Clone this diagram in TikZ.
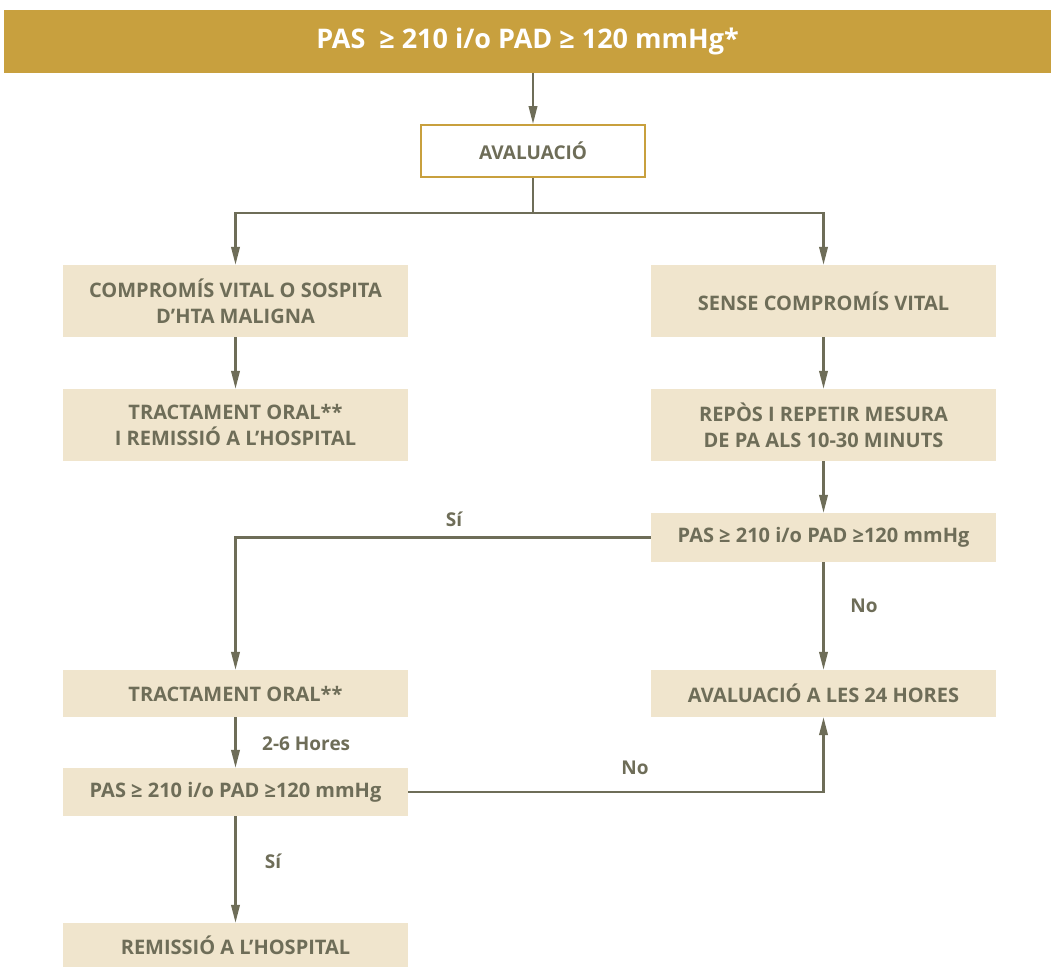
\documentclass[tikz,border=0pt]{standalone}
\usepackage{fontspec}
\setmainfont{Open Sans}
\usetikzlibrary{arrows.meta}
\definecolor{gold}{HTML}{C8A03E}
\definecolor{beige}{HTML}{F0E5CD}
\definecolor{olive}{HTML}{6E6D58}
\tikzset{
  box/.style={fill=beige, draw=none, minimum width=345pt, inner sep=0pt, align=center,
    text=olive, font=\bfseries\fontsize{20}{26}\selectfont},
  conn/.style={draw=olive, line width=2.2pt, -{Triangle[length=18pt,width=8.5pt]}},
  plain/.style={draw=olive, line width=2.2pt},
  lbl/.style={text=olive, font=\bfseries\fontsize{19}{22}\selectfont, inner sep=0pt}
}
\begin{document}
\begin{tikzpicture}[x=1pt,y=-1pt]
\useasboundingbox (0,0) rectangle (1051,966);
% banner
\node[fill=gold, minimum width=1047pt, minimum height=63pt, inner sep=0pt, text=white,
  font=\bfseries\fontsize{27}{30}\selectfont] (top) at (527.5,41.5) {PAS\ \ ≥ 210 i/o PAD ≥ 120 mmHg*};
\node[fill=white, draw=gold, line width=2pt, minimum width=224pt, minimum height=52pt, inner sep=0pt,
  text=olive, font=\bfseries\fontsize{19}{22}\selectfont] (aval) at (533,151) {AVALUACIÓ};
\node[box, minimum height=72pt] (l1) at (235.5,301) {COMPROMÍS VITAL O SOSPITA\\D’HTA MALIGNA};
\node[box, minimum height=72pt] (r1) at (823.5,301) {SENSE COMPROMÍS VITAL};
\node[box, minimum height=72pt] (l2) at (235.5,425) {TRACTAMENT ORAL**\\I REMISSIÓ A L’HOSPITAL};
\node[box, minimum height=72pt] (r2) at (823.5,425) {REPÒS I REPETIR MESURA\\DE PA ALS 10-30 MINUTS};
\node[box, minimum height=49pt] (r3) at (823.5,537.5) {PAS ≥ 210 i/o PAD ≥120 mmHg};
\node[box, minimum height=47pt] (l3) at (235.5,693.5) {TRACTAMENT ORAL**};
\node[box, minimum height=47pt] (r4) at (823.5,693.5) {AVALUACIÓ A LES 24 HORES};
\node[box, minimum height=48pt] (l4) at (235.5,792) {PAS ≥ 210 i/o PAD ≥120 mmHg};
\node[box, minimum height=44pt] (l5) at (235.5,945) {REMISSIÓ A L’HOSPITAL};
% connectors
\coordinate (split) at (533,213);
\draw[conn] (top.south -| aval.north) -- (aval.north);
\draw[plain] (aval.south) -- (split);
\draw[conn] (split) -| (l1.north);
\draw[conn] (split) -| (r1.north);
\draw[conn] (l1.south) -- (l2.north);
\draw[conn] (r1.south) -- (r2.north);
\draw[conn] (r2.south) -- (r3.north);
\draw[conn] (r3.west) -| (l3.north);
\node[lbl] (si1) at (454,519) {Sí};
\draw[conn] (r3.south) -- (r4.north);
\node[lbl] (no1) at (864,606) {No};
\draw[conn] (l3.south) -- (l4.north);
\node[lbl, anchor=west] (h26) at (262,744) {2-6 Hores};
\draw[conn] (l4.east) -| (r4.south);
\node[lbl] (no2) at (635,768) {No};
\draw[conn] (l4.south) -- (l5.north);
\node[lbl] (si2) at (273,861) {Sí};
\end{tikzpicture}
\end{document}
